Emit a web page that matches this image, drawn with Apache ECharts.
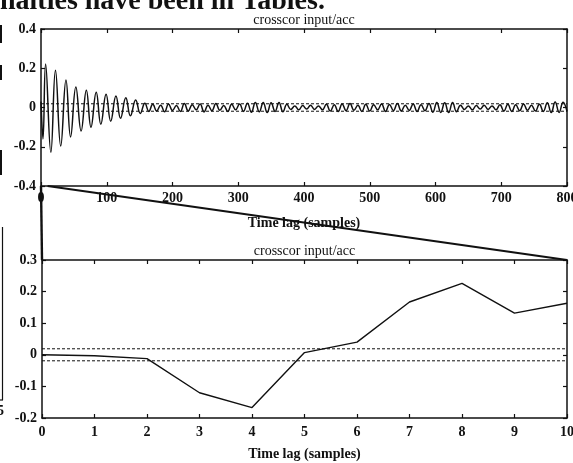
<!DOCTYPE html>
<html><head><meta charset="utf-8">
<script src="https://cdn.jsdelivr.net/npm/echarts@6/dist/echarts.min.js"></script>
<style>html,body{margin:0;padding:0;background:#fff}#c{width:573px;height:463px}</style>
</head><body><div id="c"></div>
<script>
// ---- data ----
const plotTitle = 'crosscor input/acc';
const xAxisName = 'Time lag (samples)';
const headerText = 'nalties have been in Tables.';

const topXTicks = [0, 100, 200, 300, 400, 500, 600, 700, 800];
const topYTicks = [-0.4, -0.2, 0, 0.2, 0.4];
const zoomXTicks = [0, 1, 2, 3, 4, 5, 6, 7, 8, 9, 10];
const zoomYTicks = [-0.2, -0.1, 0, 0.1, 0.2, 0.3];

const confBound = 0.019;

const topLags = [0, 3, 7, 15, 22, 30, 38, 45, 53, 61, 69, 76, 84, 91, 99, 106, 114, 121, 129, 136, 144, 151, 158,
  164,170,176,182,188,194,200,206,212,218,224,230,236,242,248,254,260,266,272,278,284,290,296,302,308,314,
  320,326,332,338,344,350,356,362,368,374,380,386,392,398,404,410,416,422,428,434,440,446,452,458,464,470,
  476,482,488,494,500,506,512,518,524,530,536,542,548,554,560,566,572,578,584,590,596,602,608,614,620,626,
  632,638,644,650,656,662,668,674,680,686,692,698,704,710,716,722,728,734,740,746,752,758,764,770,776,782,
  788,794,800];
const topVals = [0.03, -0.16, 0.222, -0.228, 0.19, -0.196, 0.14, -0.15, 0.104, -0.12, 0.088, -0.1, 0.078, -0.085, 0.068, -0.07, 0.058, -0.055, 0.05, -0.042, 0.038, -0.03, 0.022,
  -0.02,0.016,-0.018,0.012,-0.022,0.018,-0.015,0.01,-0.02,0.02,-0.018,0.014,-0.012,0.018,-0.022,0.012,-0.016,0.02,-0.014,0.01,-0.02,0.016,-0.012,0.018,-0.02,0.022,
  -0.024,0.026,-0.022,0.025,-0.026,0.024,-0.02,0.026,-0.022,0.016,-0.01,0.008,-0.012,0.01,-0.008,0.012,-0.01,0.008,-0.012,0.016,-0.018,0.014,-0.02,0.018,-0.016,0.02,
  -0.014,0.012,-0.02,0.016,-0.018,0.014,-0.012,0.018,-0.02,0.015,-0.016,0.02,-0.018,0.012,-0.015,0.018,-0.02,0.014,-0.016,0.02,-0.024,0.026,-0.025,0.024,-0.026,0.025,
  -0.022,0.012,-0.01,0.008,-0.012,0.01,-0.008,0.012,-0.01,0.008,-0.012,0.014,-0.018,0.016,-0.02,0.014,-0.016,0.018,-0.014,0.012,-0.018,0.016,-0.02,0.024,-0.026,0.028,
  -0.025,0.027,-0.02];

const zoomLags = [0, 1, 2, 3, 4, 5, 6, 7, 8, 9, 10];
const zoomVals = [0.0, -0.003, -0.012, -0.12, -0.167, 0.007, 0.04, 0.167, 0.226, 0.132, 0.163];

// ---- chart ----
const FONT = 'Liberation Serif';
const chart = echarts.init(document.getElementById('c'), null, {renderer: 'canvas'});

const ink = '#111';
function xAx(grid, ticks, pos, showLabel, margin, nameGap) {
  return {
    type: 'value', gridIndex: grid, position: pos,
    min: ticks[0], max: ticks[ticks.length - 1], interval: ticks[1] - ticks[0],
    axisLine: {show: true, onZero: false, lineStyle: {color: ink, width: 1.5}},
    axisTick: {show: true, inside: true, length: 4, lineStyle: {color: ink, width: 1.2}},
    axisLabel: {show: showLabel, color: ink, fontFamily: FONT, fontWeight: 'bold', fontSize: 14, margin: margin,
      showMinLabel: true, showMaxLabel: true, hideOverlap: false},
    splitLine: {show: false},
    name: showLabel ? xAxisName : '', nameLocation: 'middle', nameGap: nameGap,
    nameTextStyle: {color: ink, fontFamily: FONT, fontWeight: 'bold', fontSize: 14}
  };
}
function yAx(grid, ticks, pos, showLabel) {
  return {
    type: 'value', gridIndex: grid, position: pos,
    min: ticks[0], max: ticks[ticks.length - 1], interval: +(ticks[1] - ticks[0]).toFixed(3),
    axisLine: {show: true, onZero: false, lineStyle: {color: ink, width: 1.5}},
    axisTick: {show: true, inside: true, length: 4, lineStyle: {color: ink, width: 1.2}},
    axisLabel: {show: showLabel, color: ink, fontFamily: FONT, fontWeight: 'bold', fontSize: 14, margin: 5,
      formatter: v => String(+v.toFixed(2))},
    splitLine: {show: false}
  };
}

const dashStyle = {color: ink, width: 1, type: [3, 2]};
const solidStyle = {color: ink, width: 1.4};

chart.setOption({
  animation: false,
  backgroundColor: '#fff',
  grid: [
    {left: 41, top: 29, width: 526, height: 157, show: false, containLabel: false, outerBoundsMode: 'none'},
    {left: 42, top: 260, width: 525, height: 158, show: false, containLabel: false, outerBoundsMode: 'none'}
  ],
  xAxis: [
    xAx(0, topXTicks, 'bottom', true, 5, 30),
    xAx(0, topXTicks, 'top', false, 5, 0),
    xAx(1, zoomXTicks, 'bottom', true, 7, 29),
    xAx(1, zoomXTicks, 'top', false, 7, 0)
  ],
  yAxis: [
    yAx(0, topYTicks, 'left', true),
    yAx(0, topYTicks, 'right', false),
    yAx(1, zoomYTicks, 'left', true),
    yAx(1, zoomYTicks, 'right', false)
  ],
  series: [
    {type: 'line', xAxisIndex: 0, yAxisIndex: 0, showSymbol: false, silent: true, smooth: 0.45,
      data: topLags.map((l, i) => [l, topVals[i]]), lineStyle: {color: ink, width: 1.5}},
    {type: 'line', xAxisIndex: 0, yAxisIndex: 0, showSymbol: false, silent: true,
      data: [[topXTicks[0], confBound], [topXTicks[topXTicks.length - 1], confBound]], lineStyle: dashStyle},
    {type: 'line', xAxisIndex: 0, yAxisIndex: 0, showSymbol: false, silent: true,
      data: [[topXTicks[0], -confBound], [topXTicks[topXTicks.length - 1], -confBound]], lineStyle: dashStyle},
    {type: 'line', xAxisIndex: 2, yAxisIndex: 2, showSymbol: false, silent: true,
      data: zoomLags.map((l, i) => [l, zoomVals[i]]), lineStyle: solidStyle},
    {type: 'line', xAxisIndex: 2, yAxisIndex: 2, showSymbol: false, silent: true,
      data: [[zoomXTicks[0], confBound], [zoomXTicks[zoomXTicks.length - 1], confBound]], lineStyle: dashStyle},
    {type: 'line', xAxisIndex: 2, yAxisIndex: 2, showSymbol: false, silent: true,
      data: [[zoomXTicks[0], -confBound], [zoomXTicks[zoomXTicks.length - 1], -confBound]], lineStyle: dashStyle}
  ]
});

// connector lines and titles positioned through the axes' own scales
const tMin = topYTicks[0], zMax = zoomYTicks[zoomYTicks.length - 1];
const a0 = chart.convertToPixel({gridIndex: 0}, [zoomXTicks[0], tMin]);
const a1 = chart.convertToPixel({gridIndex: 0}, [zoomXTicks[zoomXTicks.length - 1], tMin]);
const b0 = chart.convertToPixel({gridIndex: 1}, [zoomXTicks[0], zMax]);
const b1 = chart.convertToPixel({gridIndex: 1}, [zoomXTicks[zoomXTicks.length - 1], zMax]);
const tTop = chart.convertToPixel({gridIndex: 0}, [(topXTicks[0] + topXTicks[topXTicks.length - 1]) / 2, topYTicks[topYTicks.length - 1]]);
const zTop = chart.convertToPixel({gridIndex: 1}, [(zoomXTicks[0] + zoomXTicks[zoomXTicks.length - 1]) / 2, zMax]);

const titleStyle = {fill: ink, font: '14px "Liberation Serif"', align: 'center', verticalAlign: 'bottom'};
chart.setOption({
  graphic: [
    {type: 'line', z: 100, shape: {x1: a0[0], y1: a0[1], x2: b0[0], y2: b0[1]}, style: {stroke: ink, lineWidth: 2.4}},
    {type: 'line', z: 100, shape: {x1: a1[0], y1: a1[1], x2: b1[0], y2: b1[1]}, style: {stroke: ink, lineWidth: 2.2}},
    {type: 'text', z: 100, x: tTop[0], y: tTop[1] - 2, style: Object.assign({text: plotTitle}, titleStyle)},
    {type: 'text', z: 100, x: zTop[0], y: zTop[1] - 2, style: Object.assign({text: plotTitle}, titleStyle)},
    {type: 'text', z: 100, x: 0, y: 16, style: {text: headerText, fill: ink, font: 'bold 28px "Liberation Serif"', verticalAlign: 'bottom'}},
    {type: 'rect', shape: {x: 0, y: 25, width: 2, height: 18}, style: {fill: ink}},
    {type: 'rect', shape: {x: 0, y: 65, width: 2, height: 15}, style: {fill: ink}},
    {type: 'rect', shape: {x: 0, y: 150, width: 2, height: 25}, style: {fill: ink}},
    {type: 'line', shape: {x1: 2.5, y1: 227, x2: 2.5, y2: 400}, style: {stroke: ink, lineWidth: 1.2}},
    {type: 'line', shape: {x1: 0, y1: 400, x2: 3, y2: 400}, style: {stroke: ink, lineWidth: 1.2}},
    {type: 'text', x: -3, y: 411, style: {text: '5', fill: ink, font: 'bold 14px "Liberation Serif"', verticalAlign: 'middle'}}
  ]
});
</script>
</body></html>
